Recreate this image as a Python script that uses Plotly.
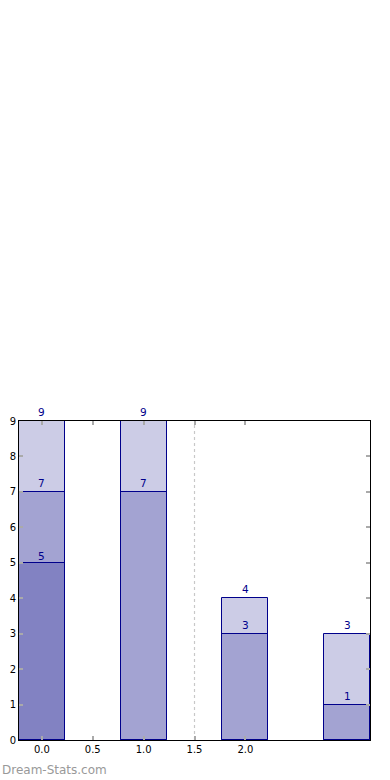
import plotly.graph_objects as go

positions = [0, 1, 2, 3]
series_a = [9, 9, 4, 3]
series_b = [7, 7, 3, 1]
series_c = [5, None, None, None]
x_tick_vals = [0, 0.5, 1.0, 1.5, 2.0]
x_tick_text = ["0.0", "0.5", "1.0", "1.5", "2.0"]
y_tick_vals = [0, 1, 2, 3, 4, 5, 6, 7, 8, 9]
divider_x = 1.5

FONT = "DejaVu Sans"
fill = "rgba(0,0,128,0.2)"
edge = "#00008b"
label_shifts = [1, 1, -1]

fig = go.Figure()
for s in [series_a, series_b, series_c]:
    fig.add_trace(go.Bar(
        x=positions, y=s, width=0.45,
        marker=dict(color=fill, line=dict(color=edge, width=1)),
        showlegend=False, hoverinfo="skip",
    ))
for s, shift in zip([series_a, series_b, series_c], label_shifts):
    for p, v in zip(positions, s):
        if v:
            fig.add_annotation(x=p, y=v, text=str(v), showarrow=False,
                               xanchor="center", yanchor="bottom", yshift=shift,
                               font=dict(family=FONT, size=10.5, color="#00008b"))

fig.add_shape(type="line", x0=divider_x, x1=divider_x, y0=0, y1=1,
              xref="x", yref="paper", layer="below",
              line=dict(color="#c8c8c8", width=1.2, dash="dot"))

fig.add_annotation(text="Dream-Stats.com", xref="paper", yref="paper",
                   x=-0.054, y=-0.094, xanchor="left", yanchor="middle",
                   showarrow=False, font=dict(family=FONT, size=12, color="#999999"))

fig.update_layout(
    width=390, height=780,
    margin=dict(l=19, r=20, t=421, b=40, autoexpand=False),
    barmode="overlay", bargap=0,
    plot_bgcolor="white", paper_bgcolor="white",
    font=dict(family=FONT, size=10, color="#000000"),
)
fig.update_xaxes(range=[-0.225, 3.225], tickvals=x_tick_vals, ticktext=x_tick_text,
                 showgrid=False, zeroline=False, showline=True, linecolor="black",
                 linewidth=1, mirror="ticks", ticks="inside", ticklen=4,
                 tickcolor="#aaaaaa", tickwidth=1.5, tickfont=dict(size=10),
                 automargin=False)
fig.update_yaxes(range=[0, 9], tickvals=y_tick_vals,
                 showgrid=False, zeroline=False, showline=True, linecolor="black",
                 linewidth=1, mirror="ticks", ticks="inside", ticklen=4,
                 tickcolor="#aaaaaa", tickwidth=1.5, tickfont=dict(size=10),
                 automargin=False)

fig.write_html("out.html")
